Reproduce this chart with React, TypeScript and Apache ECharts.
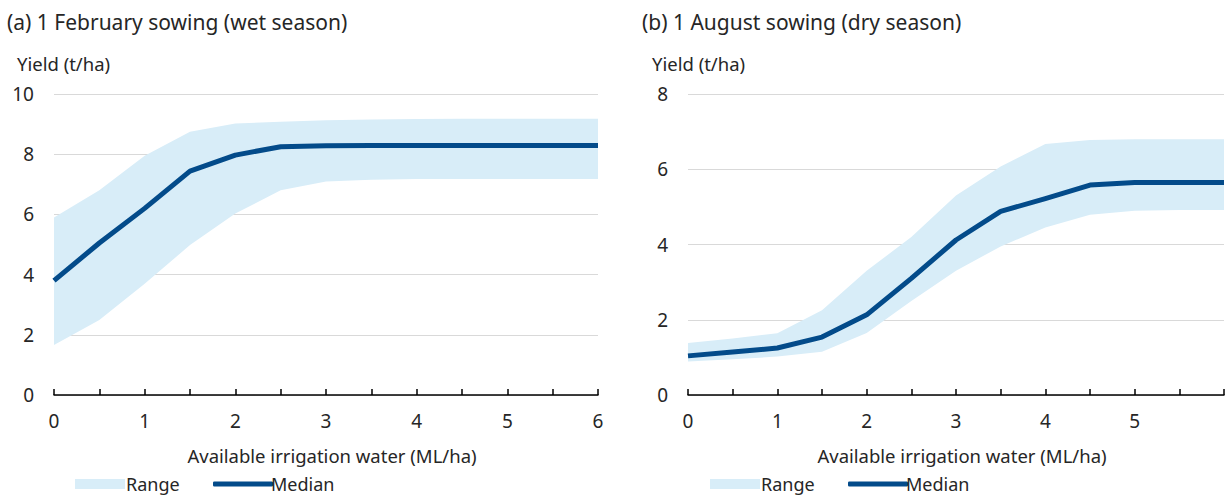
import React, { useEffect, useRef } from "react";
import * as echarts from "echarts";

const water = ["0", "0.5", "1", "1.5", "2", "2.5", "3", "3.5", "4", "4.5", "5", "5.5", "6"];

const medianA = [3.8, 5.05, 6.2, 7.44, 7.97, 8.25, 8.28, 8.29, 8.29, 8.29, 8.29, 8.29, 8.29];
const upperA = [5.9, 6.8, 7.95, 8.75, 9.02, 9.08, 9.13, 9.15, 9.17, 9.18, 9.18, 9.18, 9.18];
const lowerA = [1.66, 2.49, 3.7, 4.98, 6.03, 6.8, 7.09, 7.15, 7.18, 7.18, 7.18, 7.18, 7.18];

const medianB = [1.04, 1.14, 1.25, 1.54, 2.13, 3.1, 4.12, 4.88, 5.22, 5.58, 5.65, 5.65, 5.65];
const upperB = [1.38, 1.5, 1.64, 2.25, 3.3, 4.2, 5.3, 6.07, 6.67, 6.78, 6.8, 6.8, 6.8];
const lowerB = [0.89, 0.95, 1.02, 1.15, 1.65, 2.5, 3.3, 3.95, 4.45, 4.79, 4.9, 4.92, 4.92];

const yMax = [10, 8];
const titles = ["(a) 1 February sowing (wet season)", "(b) 1 August sowing (dry season)"];
const yName = "Yield (t/ha)";
const xName = "Available irrigation water (ML/ha)";

const FONT = "'Noto Sans', sans-serif";
const TEXT = "#262626";
const BAND = "#d8edf8";
const LINE = "#034b8a";

export default function App() {
  const ref = useRef<HTMLDivElement>(null);
  useEffect(() => {
    if (!ref.current) return;
    const chart = echarts.init(ref.current, null, { renderer: "svg" });

    const diff = (u: number[], l: number[]) => u.map((v, i) => +(v - l[i]).toFixed(3));

    const grids = [
      { left: 54, top: 94, width: 544, height: 301 },
      { left: 688, top: 94, width: 547, height: 301 },
    ];

    const xAxis = [0, 1].map((g) => ({
      type: "category",
      gridIndex: g,
      data: water,
      boundaryGap: false,
      name: xName,
      nameLocation: "middle",
      nameGap: 51,
      nameTextStyle: { fontFamily: FONT, fontSize: 18.5, color: TEXT, padding: [0, 0, 0, 12] },
      axisLine: { lineStyle: { color: "#000", width: 1.5 } },
      axisTick: { inside: true, length: 6, interval: 0, lineStyle: { color: "#000", width: 1.5 } },
      splitLine: { show: false },
      axisLabel: {
        interval: 0,
        margin: 16,
        fontFamily: FONT,
        fontSize: 19,
        color: TEXT,
        formatter: (v: string) => {
          const n = Number(v);
          return n % 1 === 0 && !(g === 1 && n === 6) ? v : "";
        },
      },
    }));

    const yAxis = yMax.map((m, g) => ({
      type: "value",
      gridIndex: g,
      min: 0,
      max: m,
      interval: 2,
      axisLine: { show: false },
      axisTick: { show: false },
      splitLine: { lineStyle: { color: "#d9d9d9", width: 1 } },
      axisLabel: { margin: 20, fontFamily: FONT, fontSize: 19, color: TEXT },
    }));

    const sets = [
      { lower: lowerA, upper: upperA, median: medianA },
      { lower: lowerB, upper: upperB, median: medianB },
    ];

    const series: any[] = [];
    sets.forEach((s, g) => {
      series.push({
        type: "line",
        name: "lower" + g,
        xAxisIndex: g,
        yAxisIndex: g,
        stack: "band" + g,
        data: s.lower,
        symbol: "none",
        lineStyle: { opacity: 0 },
        silent: true,
      });
      series.push({
        type: "line",
        name: "Range",
        xAxisIndex: g,
        yAxisIndex: g,
        stack: "band" + g,
        data: diff(s.upper, s.lower),
        symbol: "none",
        lineStyle: { width: 0, opacity: 0 },
        itemStyle: { color: BAND },
        areaStyle: { color: BAND, opacity: 1 },
        z: 2,
      });
      series.push({
        type: "line",
        name: "Median",
        xAxisIndex: g,
        yAxisIndex: g,
        data: s.median,
        symbol: "none",
        lineStyle: { color: LINE, width: 5, join: "round" },
        itemStyle: { color: LINE },
        z: 3,
      });
    });

    const legendText = { fontFamily: FONT, fontSize: 18, color: TEXT };
    const mkRange = (left: number) => ({
      left,
      top: 470,
      itemWidth: 50,
      itemHeight: 10,
      selectedMode: false,
      textStyle: { ...legendText, padding: [0, 0, 0, -4] },
      data: [{ name: "Range", icon: "rect", itemStyle: { color: BAND } }],
    });
    const mkMedian = (left: number) => ({
      left,
      top: 470,
      itemWidth: 60,
      itemHeight: 5,
      selectedMode: false,
      textStyle: { ...legendText, padding: [0, 0, 0, -7] },
      data: [{ name: "Median", icon: "roundRect", itemStyle: { color: LINE } }],
    });

    chart.setOption({
      animation: false,
      grid: grids,
      xAxis,
      yAxis,
      series,
      legend: [mkRange(70), mkMedian(208), mkRange(705), mkMedian(843)],
      graphic: [
        { type: "text", left: 7, top: 11, style: { text: titles[0], font: `21px ${FONT}`, fill: TEXT } },
        { type: "text", left: 642, top: 11, style: { text: titles[1], font: `21px ${FONT}`, fill: TEXT } },
        { type: "text", left: 17, top: 54, style: { text: yName, font: `18.5px ${FONT}`, fill: TEXT } },
        { type: "text", left: 652, top: 54, style: { text: yName, font: `18.5px ${FONT}`, fill: TEXT } },
      ],
    });
    return () => chart.dispose();
  }, []);
  return (
    <div
      ref={ref}
      style={{ position: "fixed", left: 0, top: 0, width: 1227, height: 496, background: "#fff" }}
    />
  );
}
